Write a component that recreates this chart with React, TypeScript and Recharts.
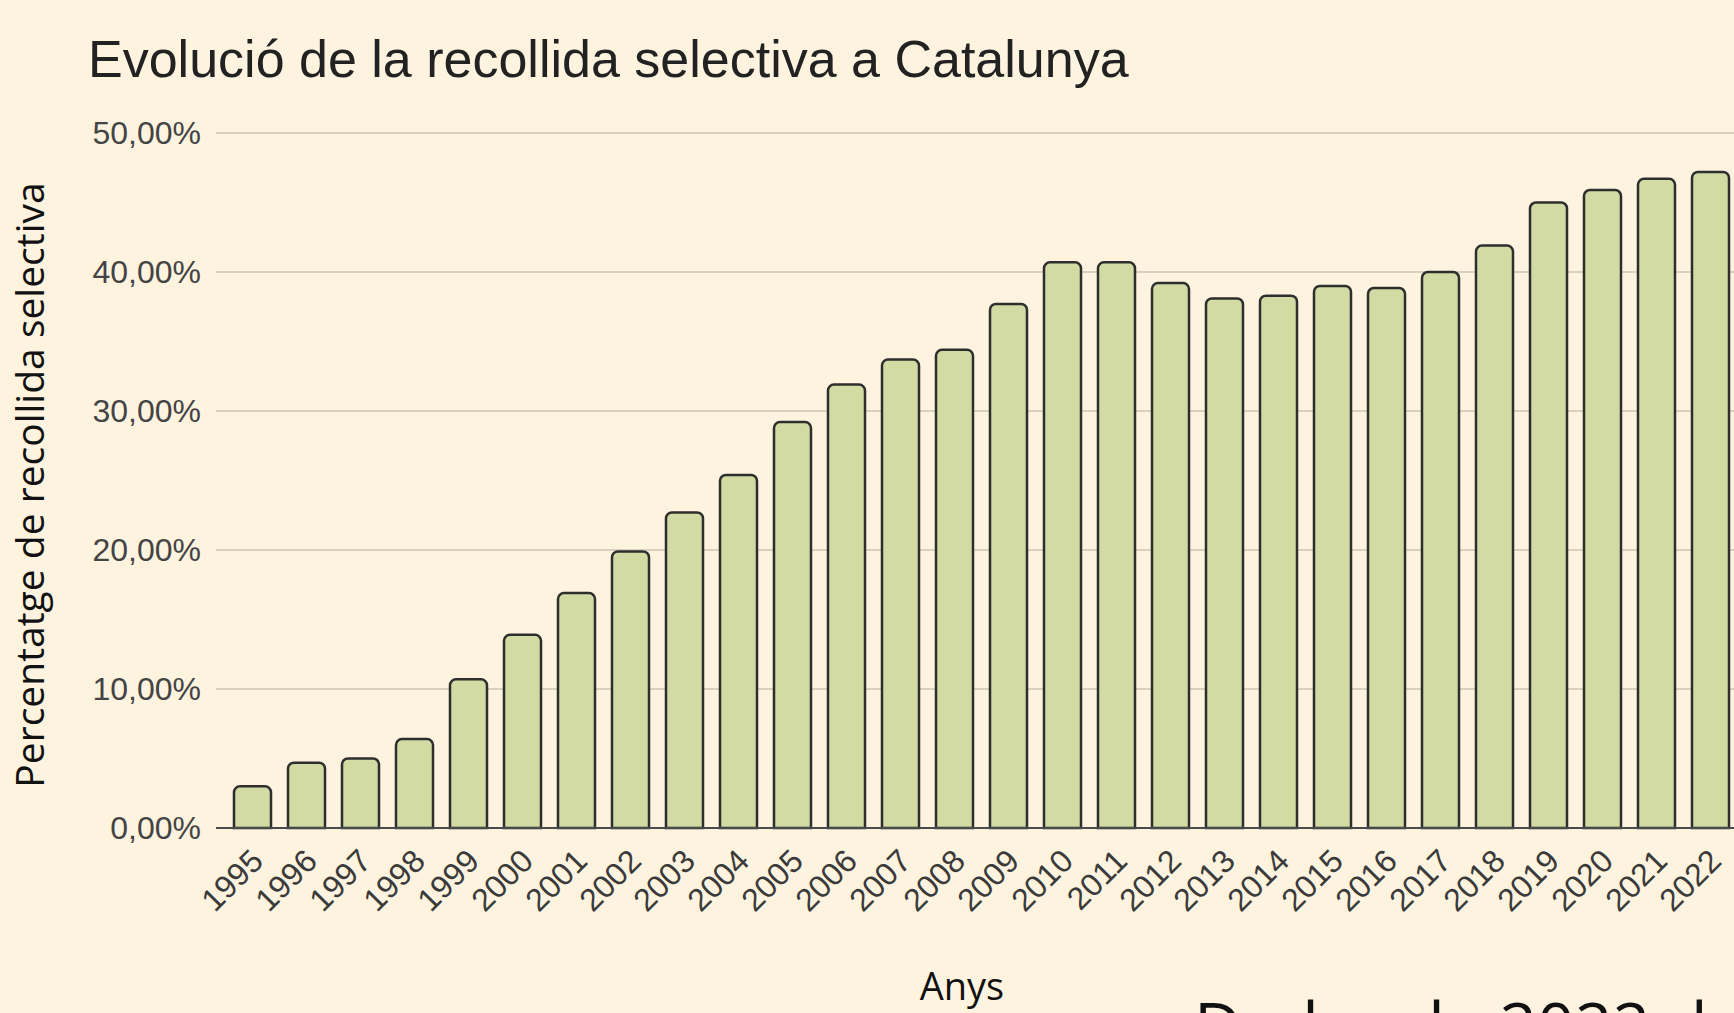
import React from 'react';
import { BarChart, Bar, XAxis, YAxis, CartesianGrid } from 'recharts';

const years = [
  '1995', '1996', '1997', '1998', '1999', '2000', '2001', '2002', '2003', '2004',
  '2005', '2006', '2007', '2008', '2009', '2010', '2011', '2012', '2013', '2014',
  '2015', '2016', '2017', '2018', '2019', '2020', '2021', '2022',
];
const rates = [
  3.0, 4.7, 5.0, 6.4, 10.7, 13.9, 16.9, 19.9, 22.7, 25.4,
  29.2, 31.9, 33.7, 34.4, 37.7, 40.7, 40.7, 39.2, 38.1, 38.3,
  39.0, 38.85, 40.0, 41.9, 45.0, 45.9, 46.7, 47.2,
];
const yTicks = [0, 10, 20, 30, 40, 50];

const titleText = 'Evolució de la recollida selectiva a Catalunya';
const yAxisTitle = 'Percentatge de recollida selectiva';
const xAxisTitle = 'Anys';
const footnoteText = 'Dades de 2022 de';

const data = years.map((year, i) => ({ year, rate: rates[i] }));

const SANS = "'Liberation Sans', Arial, Helvetica, sans-serif";
const OPEN = "'Open Sans', 'Noto Sans', sans-serif";
const BG = '#fdf3df';

const formatPct = (v: number) => v.toFixed(2).replace('.', ',') + '%';

function XTick(props: any) {
  const { x, y, payload } = props;
  return (
    <g transform={`translate(${x + 13},${y + 35})`}>
      <text
        x={0}
        y={0}
        textAnchor="end"
        transform="rotate(-45)"
        fontFamily={SANS}
        fontSize={32}
        fill="#3a3a3a"
      >
        {payload.value}
      </text>
    </g>
  );
}

const renderYLabel = () => (
  <text
    x={44}
    y={485}
    transform="rotate(-90, 44, 485)"
    textAnchor="middle"
    fontFamily={OPEN}
    fontSize={39}
    fill="#111"
  >
    {yAxisTitle}
  </text>
);

const renderXLabel = () => (
  <text x={962} y={1000} textAnchor="middle" fontFamily={OPEN} fontSize={38} fill="#111">
    {xAxisTitle}
  </text>
);

export default function App() {
  return (
    <div
      style={{
        position: 'fixed',
        left: 0,
        top: 0,
        width: 1734,
        height: 1013,
        overflow: 'hidden',
        background: BG,
      }}
    >
      <BarChart
        width={1746}
        height={1013}
        data={data}
        margin={{ top: 133, right: 0, bottom: 0, left: 0 }}
        barSize={37}
      >
        <CartesianGrid vertical={false} stroke="#cdc6b5" strokeWidth={1.5} />
        <XAxis
          dataKey="year"
          height={185}
          padding={{ left: 9, right: 9 }}
          tickLine={false}
          tickSize={0}
          tickMargin={0}
          axisLine={{ stroke: '#4a4a4a', strokeWidth: 2 }}
          interval={0}
          tick={<XTick />}
          label={renderXLabel}
        />
        <YAxis
          width={216}
          domain={[0, 50]}
          ticks={yTicks}
          tickFormatter={formatPct}
          axisLine={false}
          tickLine={false}
          tickSize={0}
          tickMargin={15}
          tick={{ fontFamily: SANS, fontSize: 32, fill: '#444' }}
          label={renderYLabel}
        />
        <Bar
          dataKey="rate"
          fill="#d1dba3"
          stroke="#2e2e2e"
          strokeWidth={2.5}
          radius={[6, 6, 0, 0]}
          isAnimationActive={false}
        />
      </BarChart>
      <svg
        width={1734}
        height={1013}
        style={{ position: 'absolute', left: 0, top: 0, pointerEvents: 'none' }}
      >
        <text x={88} y={77} fontFamily={SANS} fontSize={52} fill="#222">
          {titleText}
        </text>
        <text x={1194} y={1050} fontFamily={OPEN} fontSize={66} fill="#111">
          {footnoteText}
        </text>
      </svg>
    </div>
  );
}
